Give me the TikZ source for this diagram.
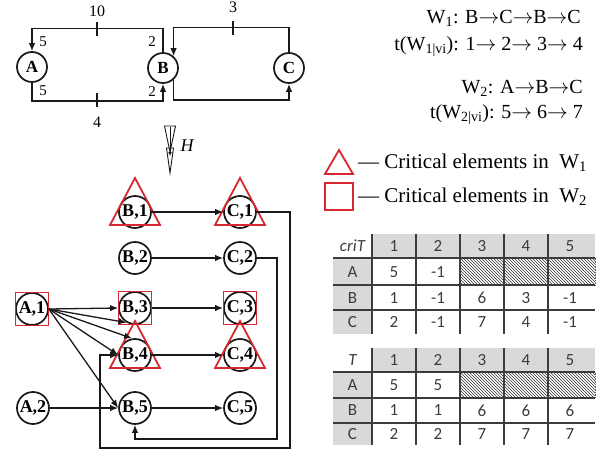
\documentclass[tikz,border=0pt]{standalone}
\usepackage{fontspec}
\setmainfont{Liberation Serif}
\newfontfamily\tabfont{Carlito}
\usetikzlibrary{arrows.meta,patterns}
\definecolor{critred}{RGB}{214,40,48}
\definecolor{cellgray}{RGB}{217,217,217}
\definecolor{tabtext}{RGB}{60,60,60}
\definecolor{tabrule}{RGB}{60,60,60}
\definecolor{edgecol}{RGB}{25,25,25}
\newcommand\rarr{\ensuremath{\mathord{\rightarrow}}}
\begin{document}
\begin{tikzpicture}[x=1pt,y=-1pt,
  vtx/.style={circle, draw=edgecol, line width=1.7pt, minimum size=30pt, inner sep=0pt,
    font=\bfseries\fontsize{17}{17}\selectfont},
  bvtx/.style={vtx, minimum size=32pt, font=\bfseries\fontsize{18}{18}\selectfont},
  arr/.style={draw=edgecol, -{Latex[length=8pt,width=6.5pt]}, line width=1.3pt},
  tickmark/.style={draw=edgecol, line width=2.8pt},
  wlbl/.style={inner sep=0pt, font=\fontsize{16}{16}\selectfont},
  slbl/.style={inner sep=0pt, font=\fontsize{15}{15}\selectfont},
  rtxt/.style={inner sep=0pt, anchor=east, font=\fontsize{20}{20}\selectfont},
  legtxt/.style={inner sep=0pt, anchor=west, font=\fontsize{21}{21}\selectfont},
  critline/.style={draw=critred, line width=1.8pt},
  tri/.pic={\draw[critline] (0,-34) -- (25,13) -- (-25,13) -- cycle;},
  sq/.pic={\draw[critline] (-16.5,-16.5) rectangle (16.5,16.5);},
  cell/.style={inner sep=0pt, text=tabtext, font=\tabfont\fontsize{17}{17}\selectfont},
  hrule/.style={draw=tabrule, line width=2pt},
  vrule/.style={draw=tabrule, line width=1.5pt}
]
\useasboundingbox (0,0) rectangle (611,455);

% ---------- top graph ----------
\node[vtx] (A) at (32,67) {A};
\node[vtx] (B) at (163,68) {B};
\node[vtx] (C) at (289,68) {C};

\draw[arr] (B.north) -- ++(0,-24) -| (A.north);
\draw[arr] (A.south) -- ++(0,18) -| (B.south);
\draw[arr] (C.north) -- ++(0,-25) -| (B.48);
\coordinate (bc) at (289,100);
\draw[arr] (B.-48) |- (bc) -- (C.south);

\draw[tickmark] (97,22) -- (97,36);
\draw[tickmark] (97,93) -- (97,107);
\draw[tickmark] (233,21) -- (233,35);

\node[wlbl] (l10) at (97,11) {10};
\node[wlbl] (l4) at (97,122) {4};
\node[wlbl] (l3) at (233,7) {3};
\node[slbl] (la1) at (43,42) {5};
\node[slbl] (la2) at (43,91) {5};
\node[slbl] (lb1) at (152,42) {2};
\node[slbl] (lb2) at (152,92) {2};

% ---------- H arrow ----------
\draw[line width=0.9pt, draw=edgecol] (164.5,126) -- (175.5,126) -- (170,152) -- cycle;
\draw[line width=0.9pt, draw=edgecol] (166.5,148) -- (173.5,148) -- (170,173) -- cycle;
\coordinate (hs) at (170,127);
\coordinate (he) at (170,156);
\draw[draw=edgecol, line width=0.9pt, -{Latex[length=4pt,width=4pt]}] (hs) -- (he);
\node[inner sep=0pt, font=\itshape\fontsize{18}{18}\selectfont] (H) at (187,146) {H};

% ---------- right texts ----------
\node[rtxt] (w1) at (581,18) {W\textsubscript{1}: B\rarr C\rarr B\rarr C};
\node[rtxt] (t1) at (583,47) {t(W\textsubscript{1|vi}): 1\rarr{} 2\rarr{} 3\rarr{} 4};
\node[rtxt] (w2) at (583,88) {W\textsubscript{2}: A\rarr B\rarr C};
\node[rtxt] (t2) at (583,115) {t(W\textsubscript{2|vi}): 5\rarr{} 6\rarr{} 7};

\draw[critline] (339,150) -- (353,174) -- (325,174) -- cycle;
\draw[critline] (325,183) rectangle (353,210);
\node[legtxt] (leg1) at (358,163) {— Critical elements in\ \ W\textsubscript{1}};
\node[legtxt] (leg2) at (358,197) {— Critical elements in\ \ W\textsubscript{2}};

% ---------- bottom graph ----------
\node[bvtx] (B1) at (135,212) {B,1};
\node[bvtx] (C1) at (240,212) {C,1};
\node[bvtx] (B2) at (135,258) {B,2};
\node[bvtx] (C2) at (240,258) {C,2};
\node[bvtx] (A1) at (32,309) {A,1};
\node[bvtx] (B3) at (135,308) {B,3};
\node[bvtx] (C3) at (240,308) {C,3};
\node[bvtx] (B4) at (135,355) {B,4};
\node[bvtx] (C4) at (240,355) {C,4};
\node[bvtx] (A2) at (33,408) {A,2};
\node[bvtx] (B5) at (135,408) {B,5};
\node[bvtx] (C5) at (240,408) {C,5};

\pic at (B1) {tri};
\pic at (C1) {tri};
\pic at (B4) {tri};
\pic at (C4) {tri};
\pic at (A1) {sq};
\pic at (B3) {sq};
\pic at (C3) {sq};

\draw[arr] (B1) -- (C1);
\draw[arr] (B2) -- (C2);
\draw[arr] (B3) -- (C3);
\draw[arr] (B4) -- (C4);
\draw[arr] (B5) -- (C5);
\draw[arr] (A2) -- (B5);

\draw[arr] (A1.east) -- (B3.west);
\draw[arr] (A1.east) -- (B3.240);
\draw[arr] (A1.east) -- (B4.100);
\draw[arr] (A1.east) -- (B4.west);
\draw[arr] (A1.east) -- (B5.west);

\coordinate (r1) at (290,448);
\coordinate (l1) at (100,448);
\draw[arr] (C1.east) -| (r1) -- (l1) |- (B4.west);
\coordinate (r2) at (277,439);
\draw[arr] (C2.east) -| (r2) -| (B5.south);

% ---------- table criT ----------
\fill[cellgray] (372,234) rectangle (595,258);
\fill[cellgray] (333,258) rectangle (372,334);
\fill[pattern=north west lines, pattern color=black!80] (460,258) rectangle (595,285);
\draw[densely dotted, black!60, line width=0.6pt] (460,258) rectangle (595,285);
\foreach \yy in {258,285,310} \draw[hrule] (333,\yy) -- (595,\yy);
\foreach \xx in {372,416,460,504,548} \draw[vrule] (\xx,234) -- (\xx,334);

\node[cell] (pa-h0) at (352.5,246) {\itshape criT};
\foreach \v [count=\c] in {1,2,3,4,5} \node[cell] (pa-h\c) at (350+44*\c,246) {\v};
\node[cell] (pa-a0) at (352.5,272) {A};
\foreach \v [count=\c] in {5,-1} \node[cell] (pa-a\c) at (350+44*\c,272) {\v};
\node[cell] (pa-b0) at (352.5,298) {B};
\foreach \v [count=\c] in {1,-1,6,3,-1} \node[cell] (pa-b\c) at (350+44*\c,298) {\v};
\node[cell] (pa-c0) at (352.5,322) {C};
\foreach \v [count=\c] in {2,-1,7,4,-1} \node[cell] (pa-c\c) at (350+44*\c,322) {\v};

% ---------- table T ----------
\fill[cellgray] (372,348) rectangle (595,372);
\fill[cellgray] (333,372) rectangle (372,445);
\fill[pattern=north west lines, pattern color=black!80] (460,372) rectangle (595,398);
\draw[densely dotted, black!60, line width=0.6pt] (460,372) rectangle (595,398);
\foreach \yy in {372,398,423} \draw[hrule] (333,\yy) -- (595,\yy);
\foreach \xx in {372,416,460,504,548} \draw[vrule] (\xx,348) -- (\xx,445);

\node[cell] (pb-h0) at (352.5,360) {\itshape T};
\foreach \v [count=\c] in {1,2,3,4,5} \node[cell] (pb-h\c) at (350+44*\c,360) {\v};
\node[cell] (pb-a0) at (352.5,385) {A};
\foreach \v [count=\c] in {5,5} \node[cell] (pb-a\c) at (350+44*\c,385) {\v};
\node[cell] (pb-b0) at (352.5,410.5) {B};
\foreach \v [count=\c] in {1,1,6,6,6} \node[cell] (pb-b\c) at (350+44*\c,410.5) {\v};
\node[cell] (pb-c0) at (352.5,434) {C};
\foreach \v [count=\c] in {2,2,7,7,7} \node[cell] (pb-c\c) at (350+44*\c,434) {\v};
\end{tikzpicture}
\end{document}
